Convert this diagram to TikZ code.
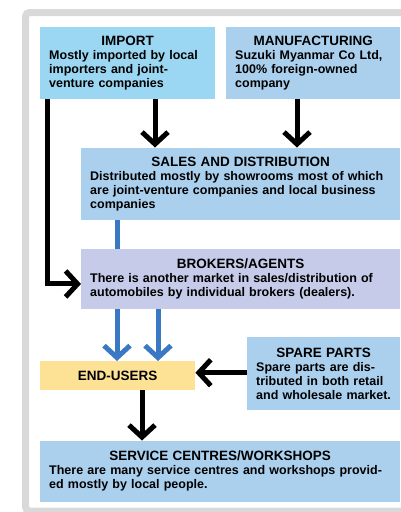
\documentclass[tikz,border=0pt]{standalone}
\usepackage{fontspec}
\setmainfont{Liberation Sans}
\usetikzlibrary{arrows.meta}
\definecolor{impc}{HTML}{9BD7F2}
\definecolor{boxc}{HTML}{ABD0EE}
\definecolor{broc}{HTML}{C5CBE8}
\definecolor{endc}{HTML}{FDE296}
\definecolor{arrb}{HTML}{3A78C4}
\definecolor{framec}{HTML}{D9D9D9}
\newcommand{\boxtitle}[1]{\makebox[\linewidth]{\fontsize{13.5}{14}\selectfont #1}}
\begin{document}
\begin{tikzpicture}[x=1pt,y=-1pt,
  panel/.style={rectangle, inner xsep=9pt, inner ysep=0pt, anchor=north west,
    align=left, font=\fontsize{12.5}{14}\selectfont\bfseries},
  blk/.style={line width=5pt, draw=black, -{Straight Barb[length=12pt,width=26pt]}},
  blu/.style={line width=5pt, draw=arrb, -{Straight Barb[length=12pt,width=26pt]}},
  bluline/.style={line width=5pt, draw=arrb}]
\useasboundingbox (0,0) rectangle (401,512);
\draw[line width=7pt, draw=framec, rounded corners=4pt] (25.5,12.5) rectangle (440,511);

\node[panel, fill=impc, text width=157pt, minimum height=72pt] (imp) at (40,27)
  {\boxtitle{IMPORT}\\Mostly imported by local\\importers and joint-\\venture companies};
\node[panel, fill=boxc, text width=156pt, minimum height=72pt] (man) at (226,27)
  {\boxtitle{MANUFACTURING}\\Suzuki Myanmar Co Ltd,\\100\% foreign-owned\\company};
\node[panel, fill=boxc, text width=301pt, minimum height=72.5pt] (sal) at (81,147.5)
  {\boxtitle{SALES AND DISTRIBUTION}\\Distributed mostly by showrooms most of which\\are joint-venture companies and local business\\companies};
\node[panel, fill=broc, text width=301pt, minimum height=60.5pt] (bro) at (81,248.5)
  {\boxtitle{BROKERS/AGENTS}\\There is another market in sales/distribution of\\automobiles by individual brokers (dealers).};
\node[panel, fill=endc, text width=137pt, minimum height=29pt] (end) at (40,361)
  {\boxtitle{END-USERS}};
\node[panel, fill=boxc, text width=135pt, minimum height=73pt] (spa) at (247,337)
  {\boxtitle{SPARE PARTS}\\Spare parts are dis-\\tributed in both retail\\and wholesale market.};
\node[panel, fill=boxc, text width=342pt, minimum height=61pt] (ser) at (40,440.5)
  {\boxtitle{SERVICE CENTRES/WORKSHOPS}\\There are many service centres and workshops provid-\\ed mostly by local people.};

\draw[blk] ([xshift=7pt]imp.south west) |- ([yshift=-5pt]bro.west);
\draw[blk] ([xshift=115pt]imp.south west) -- ([xshift=115pt]imp.south west |- sal.north);
\draw[blk] ([xshift=71pt]man.south west) -- ([xshift=71pt]man.south west |- sal.north);
\draw[bluline] ([xshift=36pt]sal.south west) -- ([xshift=36pt]sal.south west |- bro.north);
\draw[blu] ([xshift=36pt]bro.south west) -- ([xshift=36pt]bro.south west |- end.north);
\draw[blu] ([xshift=77pt]bro.south west) -- ([xshift=77pt]bro.south west |- end.north);
\draw[blk] ([yshift=1pt]spa.west) -- ([yshift=1pt]spa.west -| end.east);
\draw[blk] ([xshift=102pt]end.south west) -- ([xshift=102pt]end.south west |- ser.north);
\end{tikzpicture}
\end{document}
